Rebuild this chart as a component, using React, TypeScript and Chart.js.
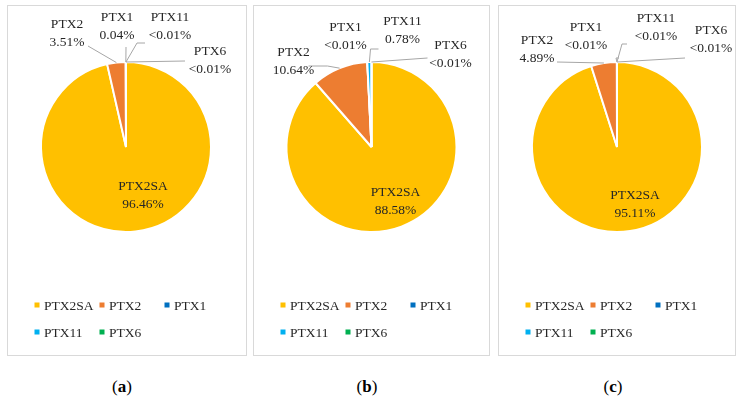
import React, { useEffect, useRef } from "react";
import { Chart, registerables } from "chart.js";

Chart.register(...registerables);

// ---------- DATA ----------
const categories = ["PTX2SA", "PTX2", "PTX1", "PTX11", "PTX6"];
// "<0.01%" entries are drawn with a tiny placeholder value
const valuesA = [96.46, 3.51, 0.04, 0.005, 0.005];
const valuesB = [88.58, 10.64, 0.005, 0.78, 0.005];
const valuesC = [95.11, 4.89, 0.005, 0.005, 0.005];
const pctLabelsA = ["96.46%", "3.51%", "0.04%", "<0.01%", "<0.01%"];
const pctLabelsB = ["88.58%", "10.64%", "<0.01%", "0.78%", "<0.01%"];
const pctLabelsC = ["95.11%", "4.89%", "<0.01%", "<0.01%", "<0.01%"];
const captions = ["a", "b", "c"];

// ---------- STYLE ----------
const colors = ["#FFC000", "#ED7D31", "#0070C0", "#00B0F0", "#00B050"];
const FONT = "'Liberation Serif', 'DejaVu Serif', serif";
const TEXT_COLOR = "#262626";
const LEADER_COLOR = "#A6A6A6";

type LabelLayout = {
  text: [number, number]; // offset of label block centre (first line) from pie centre
  line?: [number, number][]; // leader polyline points (offsets from pie centre)
};

type PanelLayout = {
  left: number;
  top: number;
  width: number;
  height: number;
  cx: number;
  cy: number;
  r: number;
  captionX: number;
  labels: LabelLayout[];
};

const panels: PanelLayout[] = [
  {
    left: 7, top: 5, width: 240, height: 351,
    cx: 118, cy: 141, r: 84, captionX: 122,
    labels: [
      { text: [17, 39] },
      { text: [-59, -123], line: [[-38, -101]] },
      { text: [-9, -130], line: [[0, -100]] },
      { text: [44, -130], line: [[11, -104], [19, -104]] },
      { text: [84, -96], line: [[59, -86]] },
    ],
  },
  {
    left: 253, top: 5, width: 237, height: 351,
    cx: 117.5, cy: 141, r: 84, captionX: 367,
    labels: [
      { text: [24, 45] },
      { text: [-78, -95], line: [[-44, -81], [-63, -81]] },
      { text: [-26, -120] },
      { text: [31, -126], line: [[-1, -98], [7, -98]] },
      { text: [79, -102], line: [[56, -89]] },
    ],
  },
  {
    left: 498, top: 5, width: 238, height: 351,
    cx: 118, cy: 141, r: 84, captionX: 613,
    labels: [
      { text: [18, 48] },
      { text: [-80, -107], line: [[-60, -85]] },
      { text: [-31, -120], line: [[-1, -89], [2, -89]] },
      { text: [39, -129], line: [[5, -103], [10, -103]] },
      { text: [94, -117], line: [[68, -89]] },
    ],
  },
];

const legendCols = [29, 94, 159];
const legendRows = [299, 326];

function PiePanel({
  values,
  pctLabels,
  layout,
}: {
  values: number[];
  pctLabels: string[];
  layout: PanelLayout;
}) {
  const ref = useRef<HTMLCanvasElement | null>(null);
  const W = layout.width - 2;
  const H = layout.height - 2;

  useEffect(() => {
    if (!ref.current) return;
    const s = 2 * layout.r + 4;
    const labelPlugin = {
      id: "pieLabels",
      afterDatasetsDraw(chart: any) {
        const ctx = chart.ctx;
        const meta = chart.getDatasetMeta(0);
        ctx.save();
        ctx.font = `13.5px ${FONT}`;
        ctx.textAlign = "center";
        ctx.textBaseline = "middle";
        meta.data.forEach((arc: any, i: number) => {
          const p = arc.getProps(["x", "y", "startAngle", "endAngle", "outerRadius"], true);
          const lay = layout.labels[i];
          if (lay.line) {
            const mid = (p.startAngle + p.endAngle) / 2;
            const sx = p.x + Math.cos(mid) * p.outerRadius;
            const sy = p.y + Math.sin(mid) * p.outerRadius;
            ctx.strokeStyle = LEADER_COLOR;
            ctx.lineWidth = 1;
            ctx.beginPath();
            ctx.moveTo(sx, sy);
            lay.line.forEach(([dx, dy]) => ctx.lineTo(p.x + dx, p.y + dy));
            ctx.stroke();
          }
          ctx.fillStyle = TEXT_COLOR;
          const tx = p.x + lay.text[0];
          const ty = p.y + lay.text[1];
          ctx.fillText(chart.data.labels[i], tx, ty);
          ctx.fillText(pctLabels[i], tx, ty + 18);
        });
        ctx.restore();
      },
      afterDraw(chart: any) {
        const ctx = chart.ctx;
        ctx.save();
        ctx.font = `13.5px ${FONT}`;
        ctx.textAlign = "left";
        ctx.textBaseline = "middle";
        chart.data.labels.forEach((lab: string, i: number) => {
          const col = i % 3;
          const row = Math.floor(i / 3);
          const x = legendCols[col];
          const y = legendRows[row];
          ctx.fillStyle = colors[i];
          ctx.fillRect(x - 2.5, y - 2.5, 5, 5);
          ctx.fillStyle = TEXT_COLOR;
          ctx.fillText(lab, x + 7, y + 1);
        });
        ctx.restore();
      },
    };

    const chart = new Chart(ref.current, {
      type: "pie",
      data: {
        labels: categories,
        datasets: [
          {
            data: values,
            backgroundColor: colors,
            borderColor: "#ffffff",
            borderWidth: 2,
          },
        ],
      },
      options: {
        responsive: false,
        maintainAspectRatio: false,
        animation: false,
        layout: {
          padding: {
            left: layout.cx - s / 2,
            right: W - layout.cx - s / 2,
            top: layout.cy - s / 2,
            bottom: H - layout.cy - s / 2,
          },
        },
        plugins: {
          legend: { display: false },
          tooltip: { enabled: false },
        },
      },
      plugins: [labelPlugin],
    });
    return () => chart.destroy();
  }, []);

  return (
    <div
      style={{
        position: "absolute",
        left: layout.left,
        top: layout.top,
        width: layout.width,
        height: layout.height,
        border: "1px solid #D9D9D9",
        boxSizing: "border-box",
        background: "#fff",
      }}
    >
      <canvas ref={ref} width={W} height={H} style={{ display: "block", width: W, height: H }} />
    </div>
  );
}

export default function App() {
  const allValues = [valuesA, valuesB, valuesC];
  const allPct = [pctLabelsA, pctLabelsB, pctLabelsC];
  return (
    <div
      style={{
        position: "fixed",
        left: 0,
        top: 0,
        width: 742,
        height: 404,
        background: "#fff",
        overflow: "hidden",
      }}
    >
      {panels.map((p, i) => (
        <React.Fragment key={i}>
          <PiePanel values={allValues[i]} pctLabels={allPct[i]} layout={p} />
          <div
            style={{
              position: "absolute",
              left: p.captionX - 30,
              width: 60,
              top: 376,
              textAlign: "center",
              fontFamily: FONT,
              fontSize: 17,
              color: "#000",
              lineHeight: "22px",
            }}
          >
            (<b>{captions[i]}</b>)
          </div>
        </React.Fragment>
      ))}
    </div>
  );
}
